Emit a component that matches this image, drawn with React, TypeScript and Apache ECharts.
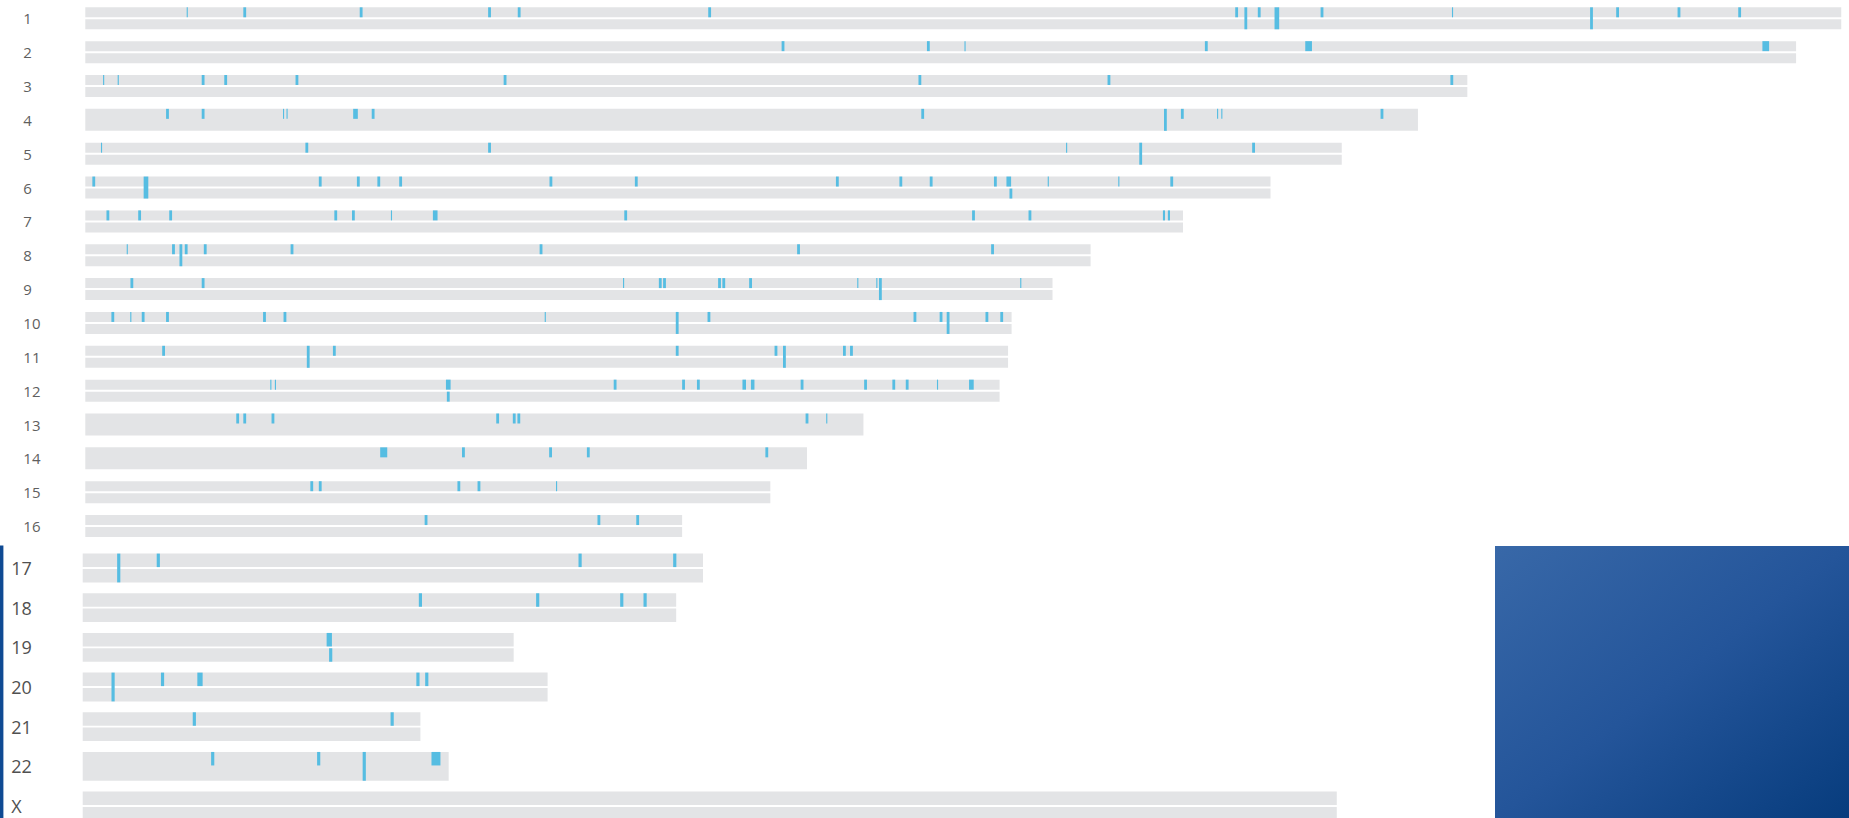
import React, { useEffect, useRef } from 'react';
import * as echarts from 'echarts';

// ---------- data ----------
const topRows = ['1', '2', '3', '4', '5', '6', '7', '8', '9', '10', '11', '12', '13', '14', '15', '16'];
const topLengths = [248.9, 242.5, 195.9, 188.9, 178.1, 168, 155.6, 142.5, 137.1, 131.3, 130.8, 129.6, 110.3, 102.3, 97.1, 84.6];
const bottomRows = ['17', '18', '19', '20', '21', '22', 'X'];
const bottomLengths = [87.8, 84, 61, 65.8, 47.8, 51.8, 177.5];
const solidRows = ['4', '13', '14', '22'];

// [chromosome, position, region width, strand (0 = upper, 1 = lower, 2 = both)]
const markers: [string, number, number, number][] = [
  ['1', 14.45, 0.16, 0], ['1', 22.6, 0.4, 0], ['1', 39.1, 0.4, 0], ['1', 57.3, 0.4, 0], ['1', 61.5, 0.4, 0],
  ['1', 88.5, 0.4, 0], ['1', 163.2, 0.4, 0], ['1', 164.5, 0.4, 2], ['1', 166.4, 0.4, 0], ['1', 168.9, 0.66, 2],
  ['1', 175.3, 0.4, 0], ['1', 193.8, 0.16, 0], ['1', 213.5, 0.4, 2], ['1', 217.2, 0.4, 0], ['1', 225.9, 0.4, 0],
  ['1', 234.5, 0.4, 0],
  ['2', 98.9, 0.4, 0], ['2', 119.5, 0.4, 0], ['2', 124.7, 0.16, 0], ['2', 158.9, 0.4, 0], ['2', 173.4, 0.95, 0],
  ['2', 238.2, 0.95, 0],
  ['3', 2.6, 0.16, 0], ['3', 4.67, 0.16, 0], ['3', 16.7, 0.4, 0], ['3', 19.9, 0.4, 0], ['3', 30.0, 0.4, 0],
  ['3', 59.5, 0.4, 0], ['3', 118.3, 0.4, 0], ['3', 145.1, 0.4, 0], ['3', 193.7, 0.4, 0],
  ['4', 11.65, 0.4, 0], ['4', 16.7, 0.4, 0], ['4', 28.1, 0.16, 0], ['4', 28.6, 0.16, 0], ['4', 38.3, 0.66, 0],
  ['4', 40.8, 0.4, 0], ['4', 118.7, 0.4, 0], ['4', 153.1, 0.4, 2], ['4', 155.5, 0.4, 0], ['4', 160.5, 0.16, 0],
  ['4', 161.1, 0.16, 0], ['4', 183.8, 0.4, 0],
  ['5', 2.3, 0.16, 0], ['5', 31.4, 0.4, 0], ['5', 57.3, 0.4, 0], ['5', 139.1, 0.16, 0], ['5', 149.6, 0.4, 2],
  ['5', 165.6, 0.4, 0],
  ['6', 1.2, 0.4, 0], ['6', 8.6, 0.66, 2], ['6', 33.3, 0.4, 0], ['6', 38.7, 0.4, 0], ['6', 41.6, 0.4, 0],
  ['6', 44.7, 0.4, 0], ['6', 66.0, 0.4, 0], ['6', 78.1, 0.4, 0], ['6', 106.6, 0.4, 0], ['6', 115.6, 0.4, 0],
  ['6', 119.9, 0.4, 0], ['6', 129.0, 0.4, 0], ['6', 130.9, 0.66, 0], ['6', 131.2, 0.4, 1], ['6', 136.5, 0.16, 0],
  ['6', 146.5, 0.16, 0], ['6', 154.0, 0.4, 0],
  ['7', 3.2, 0.4, 0], ['7', 7.7, 0.4, 0], ['7', 12.1, 0.4, 0], ['7', 35.5, 0.4, 0], ['7', 38.0, 0.4, 0],
  ['7', 43.4, 0.16, 0], ['7', 49.6, 0.66, 0], ['7', 76.6, 0.4, 0], ['7', 125.9, 0.4, 0], ['7', 133.9, 0.4, 0],
  ['7', 152.9, 0.3, 0], ['7', 153.6, 0.3, 0],
  ['8', 5.95, 0.16, 0], ['8', 12.5, 0.4, 0], ['8', 13.55, 0.4, 2], ['8', 14.3, 0.4, 0], ['8', 17.0, 0.4, 0],
  ['8', 29.3, 0.4, 0], ['8', 64.6, 0.4, 0], ['8', 101.1, 0.4, 0], ['8', 128.6, 0.4, 0],
  ['9', 6.6, 0.4, 0], ['9', 16.7, 0.4, 0], ['9', 76.3, 0.16, 0], ['9', 81.5, 0.4, 0], ['9', 82.1, 0.4, 0],
  ['9', 89.9, 0.4, 0], ['9', 90.5, 0.4, 0], ['9', 94.3, 0.4, 0], ['9', 109.5, 0.16, 0], ['9', 112.2, 0.16, 0],
  ['9', 112.7, 0.4, 2], ['9', 132.6, 0.16, 0],
  ['10', 3.9, 0.4, 0], ['10', 6.45, 0.16, 0], ['10', 8.2, 0.4, 0], ['10', 11.65, 0.4, 0], ['10', 25.4, 0.4, 0],
  ['10', 28.3, 0.4, 0], ['10', 65.2, 0.16, 0], ['10', 83.9, 0.4, 2], ['10', 88.4, 0.4, 0], ['10', 117.6, 0.4, 0],
  ['10', 121.3, 0.4, 0], ['10', 122.3, 0.4, 2], ['10', 127.8, 0.4, 0], ['10', 129.9, 0.4, 0],
  ['11', 11.1, 0.4, 0], ['11', 31.6, 0.4, 2], ['11', 35.3, 0.4, 0], ['11', 83.9, 0.4, 0], ['11', 97.9, 0.4, 0],
  ['11', 99.1, 0.4, 2], ['11', 107.6, 0.4, 0], ['11', 108.6, 0.4, 0],
  ['12', 26.3, 0.16, 0], ['12', 26.95, 0.16, 0], ['12', 51.45, 0.66, 0], ['12', 51.45, 0.4, 1], ['12', 75.1, 0.4, 0],
  ['12', 84.8, 0.4, 0], ['12', 86.9, 0.4, 0], ['12', 93.4, 0.5, 0], ['12', 94.6, 0.5, 0], ['12', 101.6, 0.4, 0],
  ['12', 110.6, 0.4, 0], ['12', 114.6, 0.4, 0], ['12', 116.5, 0.4, 0], ['12', 120.8, 0.16, 0], ['12', 125.6, 0.66, 0],
  ['13', 21.6, 0.4, 0], ['13', 22.6, 0.4, 0], ['13', 26.6, 0.4, 0], ['13', 58.45, 0.4, 0], ['13', 60.8, 0.4, 0],
  ['13', 61.45, 0.4, 0], ['13', 102.3, 0.4, 0], ['13', 105.1, 0.16, 0],
  ['14', 42.3, 1.0, 0], ['14', 53.6, 0.4, 0], ['14', 65.95, 0.4, 0], ['14', 71.3, 0.4, 0], ['14', 96.6, 0.4, 0],
  ['15', 32.1, 0.4, 0], ['15', 33.3, 0.4, 0], ['15', 52.95, 0.4, 0], ['15', 55.8, 0.4, 0], ['15', 66.8, 0.16, 0],
  ['16', 48.3, 0.4, 0], ['16', 72.8, 0.4, 0], ['16', 78.3, 0.4, 0],
  ['17', 5.1, 0.45, 2], ['17', 10.7, 0.45, 0], ['17', 70.4, 0.45, 0], ['17', 83.8, 0.45, 0],
  ['18', 47.8, 0.45, 0], ['18', 64.4, 0.45, 0], ['18', 76.3, 0.45, 0], ['18', 79.6, 0.45, 0],
  ['19', 34.9, 0.75, 0], ['19', 35.1, 0.45, 1],
  ['20', 4.3, 0.45, 2], ['20', 11.3, 0.45, 0], ['20', 16.6, 0.75, 0], ['20', 47.45, 0.45, 0], ['20', 48.7, 0.45, 0],
  ['21', 15.8, 0.45, 0], ['21', 43.8, 0.45, 0],
  ['22', 18.4, 0.45, 0], ['22', 33.4, 0.45, 0], ['22', 39.85, 0.45, 2], ['22', 50.0, 1.27, 0],
];

// ---------- styles ----------
const GRAY = '#e3e4e6';
const BLUE = '#56bde2';
const UNIT_PX = 7.075;
const X_MAX = 250;

function chromRender(barH: number, gap: number) {
  return (_params: any, api: any) => {
    const idx = api.value(0);
    const len = api.value(1);
    const solid = api.value(2);
    const c0 = api.coord([0, idx]);
    const c1 = api.coord([len, idx]);
    const w = c1[0] - c0[0];
    const cy = c0[1];
    const children = solid
      ? [{ type: 'rect', shape: { x: c0[0], y: cy - barH - gap / 2, width: w, height: 2 * barH + gap }, style: { fill: GRAY } }]
      : [
          { type: 'rect', shape: { x: c0[0], y: cy - barH - gap / 2, width: w, height: barH }, style: { fill: GRAY } },
          { type: 'rect', shape: { x: c0[0], y: cy + gap / 2, width: w, height: barH }, style: { fill: GRAY } },
        ];
    return { type: 'group', children };
  };
}

function markerRender(barH: number, gap: number) {
  return (_params: any, api: any) => {
    const idx = api.value(0);
    const pos = api.value(1);
    const w = api.value(2);
    const strand = api.value(3);
    const a = api.coord([pos - w / 2, idx]);
    const b = api.coord([pos + w / 2, idx]);
    const width = Math.max(b[0] - a[0], 1);
    const cy = a[1];
    let y = cy - barH - gap / 2;
    let h = barH;
    if (strand === 1) {
      y = cy + gap / 2;
    } else if (strand === 2) {
      h = 2 * barH + gap;
    }
    return { type: 'rect', shape: { x: a[0], y, width, height: h }, style: { fill: BLUE } };
  };
}

function buildChromData(rows: string[], lengths: number[]) {
  return rows.map((r, i) => [i, lengths[i], solidRows.includes(r) ? 1 : 0]);
}

function buildMarkerData(rows: string[]) {
  return markers
    .filter((m) => rows.includes(m[0]))
    .map((m) => [rows.indexOf(m[0]), m[1], m[2], m[3]]);
}

export default function App() {
  const ref = useRef<HTMLDivElement>(null);

  useEffect(() => {
    if (!ref.current) return;
    const chart = echarts.init(ref.current, undefined, { renderer: 'svg' });
    const topBand = 33.85;
    const botBand = 39.67;
    const option: any = {
      animation: false,
      backgroundColor: '#ffffff',
      grid: [
        { left: 85.3, top: 18.3 - topBand / 2, width: X_MAX * UNIT_PX, height: topBand * topRows.length },
        { left: 82.7, top: 568, width: X_MAX * UNIT_PX, height: botBand * (bottomRows.length - 1) },
      ],
      xAxis: [
        { type: 'value', gridIndex: 0, min: 0, max: X_MAX, show: false },
        { type: 'value', gridIndex: 1, min: 0, max: X_MAX, show: false },
      ],
      yAxis: [
        {
          type: 'category', gridIndex: 0, data: topRows, inverse: true,
          axisLine: { show: false }, axisTick: { show: false }, splitLine: { show: false },
          axisLabel: { align: 'left', margin: 62, fontSize: 15, color: '#5f5f5f', fontFamily: 'Open Sans' },
        },
        {
          type: 'category', gridIndex: 1, data: bottomRows, inverse: true, boundaryGap: false,
          axisLine: { show: false }, axisTick: { show: false }, splitLine: { show: false },
          axisLabel: { align: 'left', margin: 71.5, fontSize: 18, color: '#505050', fontFamily: 'Open Sans' },
        },
      ],
      series: [
        {
          type: 'custom', xAxisIndex: 0, yAxisIndex: 0, renderItem: chromRender(10, 2),
          data: buildChromData(topRows, topLengths), encode: { x: 1, y: 0 }, clip: false, silent: true,
        },
        {
          type: 'custom', xAxisIndex: 0, yAxisIndex: 0, renderItem: markerRender(10, 2),
          data: buildMarkerData(topRows), encode: { x: 1, y: 0 }, clip: false, silent: true,
        },
        {
          type: 'custom', xAxisIndex: 1, yAxisIndex: 1, renderItem: chromRender(13.5, 1.8),
          data: buildChromData(bottomRows, bottomLengths), encode: { x: 1, y: 0 }, clip: false, silent: true,
        },
        {
          type: 'custom', xAxisIndex: 1, yAxisIndex: 1, renderItem: markerRender(13.5, 1.8),
          data: buildMarkerData(bottomRows), encode: { x: 1, y: 0 }, clip: false, silent: true,
        },
      ],
      graphic: [
        { type: 'rect', left: 0, top: 545.5, shape: { x: 0, y: 0, width: 3.4, height: 273 }, style: { fill: '#0f4a93' }, silent: true },
        {
          type: 'rect', left: 1495, top: 546, shape: { x: 0, y: 0, width: 354, height: 272 }, silent: true,
          style: {
            fill: {
              type: 'linear', x: 0, y: 0, x2: 1, y2: 1,
              colorStops: [
                { offset: 0, color: '#3868a8' },
                { offset: 0.5, color: '#24559a' },
                { offset: 1, color: '#073c7d' },
              ],
            },
          },
        },
      ],
    };
    chart.setOption(option);
    return () => chart.dispose();
  }, []);

  return <div ref={ref} style={{ position: 'absolute', left: 0, top: 0, width: 1849, height: 818 }} />;
}
